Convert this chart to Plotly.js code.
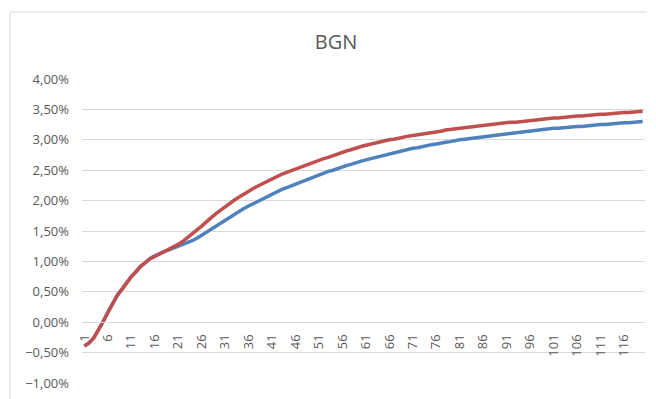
<!DOCTYPE html>
<html>
<head>
<meta charset="utf-8">
<script src="https://cdn.plot.ly/plotly-3.0.1.min.js"></script>
<style>html,body{margin:0;padding:0;background:#fff;}#chart{width:656px;height:399px;}</style>
</head>
<body>
<div id="chart"></div>
<script>
// Category axis: periods 1..120
const periods = Array.from({length: 120}, (_, i) => i + 1);
const tickPeriods = [1,6,11,16,21,26,31,36,41,46,51,56,61,66,71,76,81,86,91,96,101,106,111,116];
const chartTitle = "BGN";

// Values in percent
const blueSeries = [
 -0.39,-0.34,-0.26,-0.13,0.01,0.16,0.30,0.44,0.54,0.65,
 0.75,0.83,0.92,0.98,1.05,1.09,1.13,1.16,1.19,1.22,
 1.24,1.27,1.30,1.34,1.38,1.43,1.48,1.53,1.58,1.63,
 1.68,1.73,1.78,1.83,1.87,1.91,1.95,1.99,2.03,2.07,
 2.11,2.15,2.18,2.21,2.24,2.27,2.30,2.33,2.37,2.40,
 2.43,2.45,2.48,2.50,2.53,2.55,2.58,2.60,2.63,2.65,
 2.67,2.69,2.71,2.73,2.75,2.77,2.79,2.80,2.82,2.84,
 2.86,2.87,2.89,2.90,2.92,2.93,2.95,2.96,2.97,2.99,
 3.00,3.01,3.02,3.03,3.04,3.05,3.06,3.07,3.08,3.09,
 3.10,3.11,3.12,3.13,3.14,3.15,3.15,3.16,3.17,3.18,
 3.19,3.19,3.20,3.20,3.21,3.22,3.22,3.23,3.23,3.24,
 3.25,3.25,3.26,3.26,3.27,3.28,3.28,3.29,3.29,3.30
];
const redSeries = [
 -0.39,-0.34,-0.26,-0.13,0.01,0.16,0.30,0.44,0.54,0.65,
 0.75,0.83,0.92,0.98,1.04,1.08,1.12,1.15,1.19,1.23,
 1.28,1.33,1.39,1.45,1.51,1.58,1.65,1.72,1.78,1.84,
 1.90,1.96,2.01,2.06,2.11,2.16,2.20,2.24,2.28,2.32,
 2.36,2.40,2.43,2.46,2.49,2.52,2.55,2.58,2.60,2.63,
 2.66,2.69,2.71,2.74,2.76,2.79,2.82,2.84,2.87,2.89,
 2.91,2.93,2.95,2.96,2.98,3.00,3.01,3.03,3.04,3.06,
 3.07,3.08,3.10,3.11,3.12,3.13,3.14,3.16,3.17,3.18,
 3.19,3.20,3.21,3.22,3.23,3.24,3.25,3.25,3.26,3.27,
 3.28,3.29,3.29,3.30,3.31,3.32,3.33,3.33,3.34,3.35,
 3.36,3.36,3.37,3.37,3.38,3.39,3.39,3.40,3.40,3.41,
 3.42,3.42,3.43,3.43,3.44,3.45,3.45,3.46,3.46,3.47
];

const W = 656, H = 399;
const M = {l: 82, r: 11, t: 79, b: 16};
const yMin = -1, yMax = 4;
const FONT = "'Open Sans', 'Liberation Sans', sans-serif";
const GREY = "#595959";
const GRID = "#d9d9d9";

const plotW = W - M.l - M.r, plotH = H - M.t - M.b;
const px2x = p => (p - M.l) / plotW;
const py2y = p => (H - M.b - p) / plotH;

const traces = [
  {x: periods, y: blueSeries, type: 'scatter', mode: 'lines', name: 'Series 1',
   line: {color: '#4F81BD', width: 3.5}},
  {x: periods, y: redSeries, type: 'scatter', mode: 'lines', name: 'Series 2',
   line: {color: '#C0504D', width: 3.5}}
];

const layout = {
  width: W, height: H,
  margin: M,
  paper_bgcolor: '#fff', plot_bgcolor: '#fff',
  separators: ',.',
  showlegend: false,
  font: {family: FONT, color: GREY, size: 13},
  title: {text: chartTitle, font: {family: FONT, size: 20, color: GREY},
          xref: 'container', yref: 'container', x: 336 / W, y: 1 - 42 / H,
          xanchor: 'center', yanchor: 'middle'},
  xaxis: {
    type: 'linear', range: [0.5, 120.5],
    tickmode: 'array', tickvals: tickPeriods, ticktext: tickPeriods.map(String),
    tickangle: -90, showgrid: false, zeroline: false,
    showline: true, linecolor: GRID, linewidth: 1,
    anchor: 'free', position: (0 - yMin) / (yMax - yMin),
    ticks: '', ticklabelstandoff: 6,
    tickfont: {family: FONT, size: 13, color: GREY}
  },
  yaxis: {
    range: [yMin, yMax], dtick: 0.5, tick0: 0,
    tickformat: '.2f', ticksuffix: '%',
    showgrid: true, gridcolor: GRID, gridwidth: 1,
    zeroline: false, showline: false, ticks: '', ticklabelstandoff: 12,
    tickfont: {family: FONT, size: 13, color: GREY}
  },
  shapes: [
    {type: 'line', xref: 'paper', yref: 'paper', x0: px2x(10), x1: px2x(647), y0: py2y(12), y1: py2y(12),
     line: {color: GRID, width: 1}},
    {type: 'line', xref: 'paper', yref: 'paper', x0: px2x(10), x1: px2x(10), y0: py2y(12), y1: py2y(410),
     line: {color: GRID, width: 1}}
  ]
};

Plotly.newPlot('chart', traces, layout, {displayModeBar: false, staticPlot: true});
</script>
</body>
</html>
